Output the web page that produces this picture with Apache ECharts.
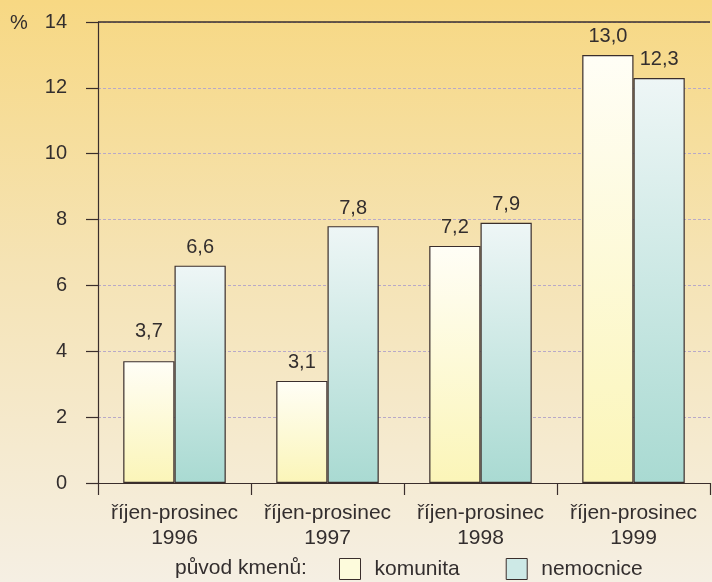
<!DOCTYPE html>
<html>
<head>
<meta charset="utf-8">
<script src="https://cdn.jsdelivr.net/npm/echarts@6/dist/echarts.min.js"></script>
<style>
  html, body { margin: 0; padding: 0; }
  #chart { width: 712px; height: 582px; }
</style>
</head>
<body>
<div id="chart"></div>
<script>
// Podíl kmenů podle původu, říjen–prosinec 1996–1999 (%)
const categories = ['říjen-prosinec\n1996', 'říjen-prosinec\n1997', 'říjen-prosinec\n1998', 'říjen-prosinec\n1999'];
const komunita = [3.7, 3.1, 7.2, 13.0];
const nemocnice = [6.6, 7.8, 7.9, 12.3];
const seriesNames = ['komunita', 'nemocnice'];
const legendTitle = 'původ kmenů:';
const unitLabel = '%';

const FONT = 'Liberation Sans';
const FS = 20;
const FS_TEXT = 21;
const TEXT = '#332e2e';
const EDGE = '#3a2e2c';

const grad = (a, b) => new echarts.graphic.LinearGradient(0, 0, 0, 1, [
  { offset: 0, color: a }, { offset: 1, color: b }
]);
const fillKomunita = grad('#fffef6', '#fbf5b8');
const fillNemocnice = grad('#eef6f6', '#a9dad2');

const fmt = v => v.toFixed(1).replace('.', ',');

const labelOpt = {
  show: true, position: 'top', distance: 8,
  fontFamily: FONT, fontSize: FS, color: TEXT,
  formatter: p => fmt(p.value)
};

const chart = echarts.init(document.getElementById('chart'));
chart.setOption({
  backgroundColor: {
    type: 'linear', x: 0, y: 0, x2: 0, y2: 1,
    colorStops: [
      { offset: 0, color: '#f7d883' },
      { offset: 0.45, color: '#f5e3b4' },
      { offset: 1, color: '#f5efe3' }
    ]
  },
  animation: false,
  title: [
    {
      text: unitLabel, left: 5, top: 8,
      textStyle: { fontFamily: FONT, fontSize: FS, fontWeight: 'normal', color: TEXT }
    },
    {
      text: legendTitle, left: 170, top: 553,
      textStyle: { fontFamily: FONT, fontSize: FS_TEXT, fontWeight: 'normal', color: TEXT }
    }
  ],
  grid: { left: 98, right: 2, top: 22, bottom: 99, containLabel: false },
  legend: {
    left: 339, top: 558, padding: 0,
    itemWidth: 21, itemHeight: 21, itemGap: 46,
    icon: 'rect',
    textStyle: { fontFamily: FONT, fontSize: FS_TEXT, color: TEXT, padding: [0, 0, 0, 9] },
    data: [
      { name: seriesNames[0], itemStyle: { color: '#fdfbdc', borderColor: EDGE, borderWidth: 1 } },
      { name: seriesNames[1], itemStyle: { color: '#cde9e6', borderColor: EDGE, borderWidth: 1 } }
    ]
  },
  xAxis: {
    type: 'category',
    data: categories,
    axisLine: { lineStyle: { color: EDGE, width: 1.2 } },
    axisTick: { show: true, interval: 0, length: 12, lineStyle: { color: EDGE, width: 1.2 } },
    axisLabel: {
      interval: 0, margin: 18, fontFamily: FONT, fontSize: FS_TEXT, lineHeight: 25, color: TEXT
    }
  },
  yAxis: {
    type: 'value', min: 0, max: 14, interval: 2,
    axisLine: { show: true, lineStyle: { color: EDGE, width: 1.2 } },
    axisTick: { show: true, length: 12, lineStyle: { color: EDGE, width: 1.2 } },
    axisLabel: { margin: 31, fontFamily: FONT, fontSize: FS, color: TEXT },
    splitLine: { show: true, lineStyle: { color: '#b8a9c8', type: [3, 2], width: 1 } }
  },
  series: [
    {
      name: seriesNames[0], type: 'bar', data: komunita.map((v, i) => i === 0
        ? { value: v, label: { distance: 20 } } : v),
      barGap: 0, barCategoryGap: '33%',
      itemStyle: { color: fillKomunita, borderColor: EDGE, borderWidth: 1.2 },
      label: labelOpt,
      markLine: {
        silent: true, symbol: 'none', label: { show: false },
        lineStyle: { color: EDGE, type: 'solid', width: 1.5 },
        data: [{ yAxis: 14 }]
      }
    },
    {
      name: seriesNames[1], type: 'bar', data: nemocnice,
      barGap: 0, barCategoryGap: '33%',
      itemStyle: { color: fillNemocnice, borderColor: EDGE, borderWidth: 1.2 },
      label: labelOpt
    }
  ]
});
</script>
</body>
</html>
